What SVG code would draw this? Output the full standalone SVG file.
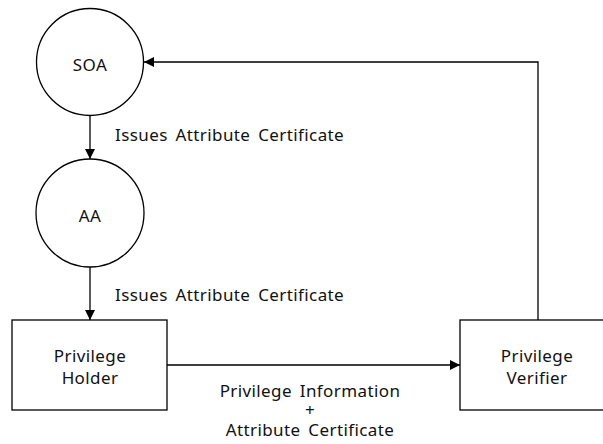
<svg xmlns="http://www.w3.org/2000/svg" width="603" height="444" viewBox="0 0 603 444">
<style>
.shape{fill:#fff;stroke:#000;stroke-width:1.3}
.line{fill:none;stroke:#000;stroke-width:1.3}
text{font-family:"Noto Sans","Liberation Sans",sans-serif;font-size:17px;fill:#111;letter-spacing:0.4px;word-spacing:3px}
.c{text-anchor:middle}
</style>
<defs>
<marker id="arr" viewBox="0 0 10 10" refX="10" refY="5" markerWidth="10" markerHeight="10" markerUnits="userSpaceOnUse" orient="auto">
<path d="M0,0 L10,5 L0,10 z" fill="#000"/>
</marker>
</defs>
<g id="connectors">
<line class="line" x1="90" y1="116" x2="90" y2="159" marker-end="url(#arr)"/>
<line class="line" x1="90" y1="267" x2="90" y2="320" marker-end="url(#arr)"/>
<line class="line" x1="167" y1="365" x2="460" y2="365" marker-end="url(#arr)"/>
<polyline class="line" points="538,320 538,62 144,62" marker-end="url(#arr)"/>
<text x="115" y="140.5">Issues Attribute Certificate</text>
<text x="115" y="300.5">Issues Attribute Certificate</text>
<text class="c" x="310" y="396.5">Privilege Information</text>
<text class="c" x="310" y="416">+</text>
<text class="c" x="310" y="435.5">Attribute Certificate</text>
</g>
<g id="soa">
<circle class="shape" cx="90" cy="62" r="53.5"/>
<text class="c" x="90" y="70.5">SOA</text>
</g>
<g id="aa">
<circle class="shape" cx="90" cy="213" r="54"/>
<text class="c" x="90" y="222">AA</text>
</g>
<g id="holder">
<rect class="shape" x="12" y="320" width="155" height="90"/>
<text class="c" x="90" y="361.5">Privilege</text>
<text class="c" x="90" y="384">Holder</text>
</g>
<g id="verifier">
<rect class="shape" x="460" y="320" width="150" height="90"/>
<text class="c" x="537" y="361.5">Privilege</text>
<text class="c" x="537" y="384">Verifier</text>
</g>
</svg>
